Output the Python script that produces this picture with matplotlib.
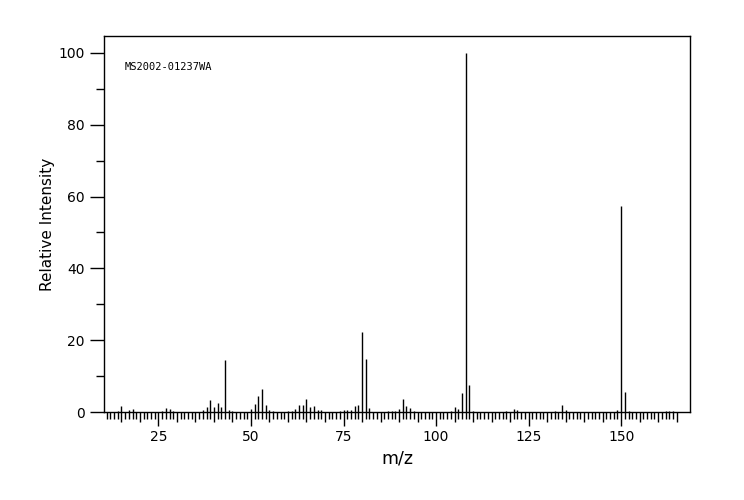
import numpy as np
import matplotlib
matplotlib.use("Agg")
import matplotlib.pyplot as plt
from matplotlib.ticker import FixedLocator, MultipleLocator, FuncFormatter

# peak list (m/z, relative intensity %)
mz = [14, 15, 17, 18, 26, 27, 28, 29, 37, 38, 39, 40, 41, 42, 43, 44, 45,
      50, 51, 52, 53, 54, 55, 56, 60, 61, 62, 63, 64, 65, 66, 67, 68, 69,
      74, 75, 76, 77, 78, 79, 80, 81, 82, 87, 88, 89, 90, 91, 92, 93, 94,
      104, 105, 106, 107, 108, 109, 110, 119, 121, 122, 132, 134, 135,
      149, 150, 151, 152, 162, 163, 164]
intensity = [0.3, 1.7, 0.5, 0.9, 0.4, 1.0, 0.8, 0.4, 0.6, 1.4, 3.3, 1.4, 2.6, 1.4, 14.5, 0.6, 0.3,
             0.8, 2.3, 4.5, 6.4, 1.9, 0.6, 0.3, 0.3, 0.3, 0.8, 1.9, 1.9, 3.6, 1.4, 1.7, 0.5, 0.6,
             0.3, 0.6, 0.6, 0.6, 1.7, 1.9, 22.3, 14.8, 1.1, 0.3, 0.3, 0.3, 0.8, 3.6, 1.8, 1.0, 0.4,
             0.4, 1.5, 0.9, 5.4, 100.0, 7.6, 0.4, 0.4, 0.9, 0.6, 0.4, 2.0, 0.6,
             0.6, 57.5, 5.7, 0.4, 0.4, 0.4, 0.4]
spectrum_id = "MS2002-01237WA"

fig = plt.figure(figsize=(7.44, 5.0), dpi=100)
ax = fig.add_axes([0.1398, 0.176, 0.7876, 0.752])

ax.vlines(mz, 0, intensity, color="black", linewidth=1.0)

ax.set_xlim(10.3, 168.6)
ax.set_ylim(0, 104.7)

# x ticks: every integer, medium every 5, long + label every 25
ax.xaxis.set_major_locator(FixedLocator(np.arange(15, 166, 5)))
ax.xaxis.set_minor_locator(FixedLocator(np.arange(11, 166, 1)))
ax.xaxis.set_major_formatter(
    FuncFormatter(lambda v, p: f"{int(v)}" if int(v) % 25 == 0 else "")
)
ax.tick_params(axis="x", which="major", length=10, width=1, pad=3, labelsize=10)
ax.tick_params(axis="x", which="minor", length=5, width=1)
for loc, tick in zip(ax.get_xticks(), ax.xaxis.get_major_ticks()):
    if int(loc) % 25 != 0:
        tick.tick1line.set_markersize(7)

ax.yaxis.set_major_locator(MultipleLocator(20))
ax.yaxis.set_minor_locator(MultipleLocator(10))
ax.tick_params(axis="y", which="major", length=10, width=1, pad=4, labelsize=10)
ax.tick_params(axis="y", which="minor", length=6, width=1)

for s in ax.spines.values():
    s.set_linewidth(1.0)

ax.set_xlabel("m/z", fontsize=12.5, labelpad=4)
ax.set_ylabel("Relative Intensity", fontsize=11, labelpad=2)

ax.text(0.036, 0.9176, spectrum_id, transform=ax.transAxes,
        fontsize=7.5, family="DejaVu Sans Mono", va="center", ha="left")

fig.savefig("out.png", dpi=100)
